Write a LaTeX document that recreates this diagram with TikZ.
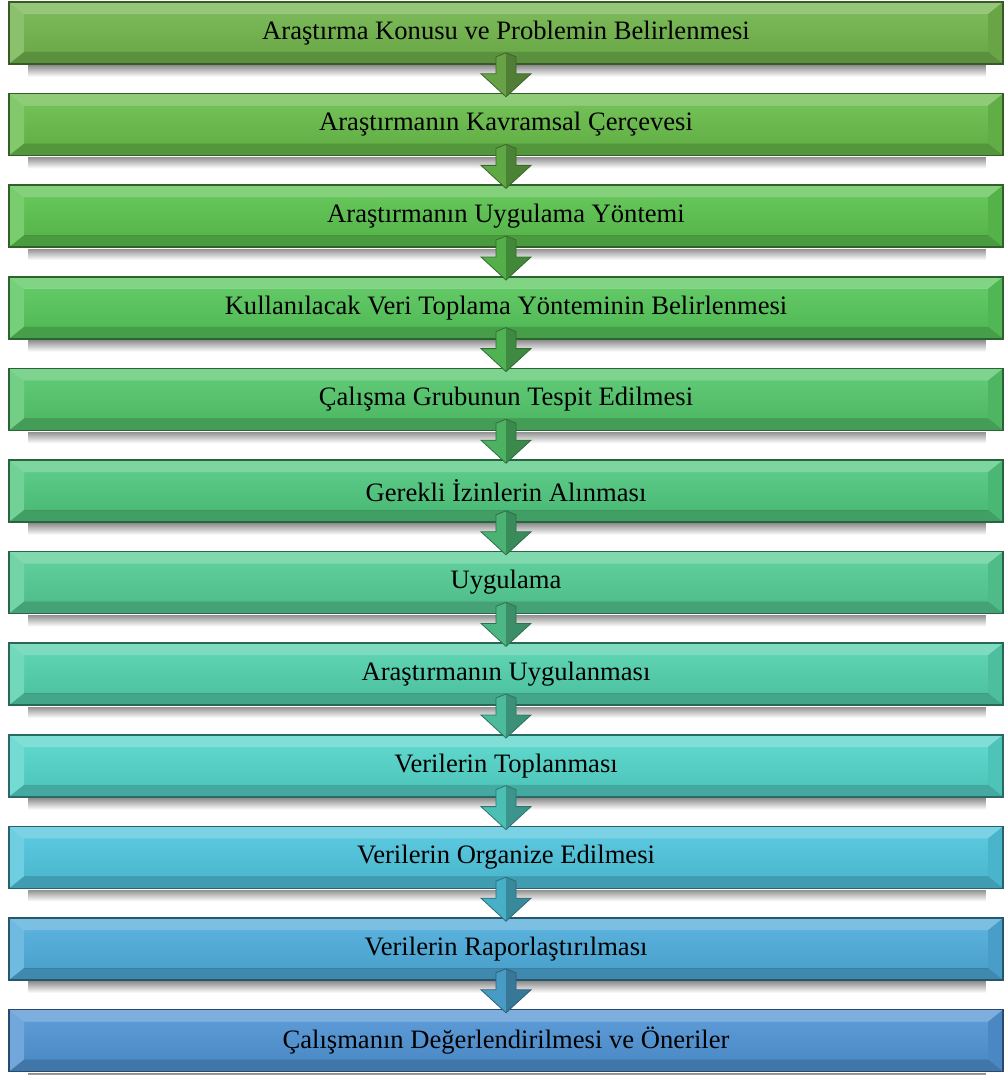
\documentclass[tikz,border=0pt]{standalone}
\usepackage{fontspec}
\setmainfont{Liberation Serif}
\usetikzlibrary{positioning,calc}

\definecolor{c1}{RGB}{114,180,78}
\definecolor{c2}{RGB}{106,188,76}
\definecolor{c3}{RGB}{93,194,80}
\definecolor{c4}{RGB}{88,198,92}
\definecolor{c5}{RGB}{85,197,108}
\definecolor{c6}{RGB}{82,199,128}
\definecolor{c7}{RGB}{85,203,148}
\definecolor{c8}{RGB}{84,208,172}
\definecolor{c9}{RGB}{85,212,200}
\definecolor{c10}{RGB}{80,196,220}
\definecolor{c11}{RGB}{79,172,218}
\definecolor{c12}{RGB}{82,148,212}

% block arrow from one stage down to the next
\newcommand{\stagearrow}[3]{
  \fill[#3!90!black] ($(#1.south)+(-10,-8)$) -- ($(#1.south)+(0,-12)$) -- ($(#1.south)+(10,-8)$)
     -- ($(#1.south)+(10,9)$) -- ($(#1.south)+(25,9)$) -- ($(#2.north)+(0,4)$)
     -- ($(#1.south)+(-25,9)$) -- ($(#1.south)+(-10,9)$) -- cycle;
  \fill[black,opacity=.22] ($(#1.south)+(0,-12)$) -- ($(#1.south)+(10,-8)$)
     -- ($(#1.south)+(10,9)$) -- ($(#1.south)+(25,9)$) -- ($(#2.north)+(0,4)$) -- cycle;
  \draw[#3!55!black,line width=.4pt] ($(#1.south)+(-10,-8)$) -- ($(#1.south)+(0,-12)$) -- ($(#1.south)+(10,-8)$)
     -- ($(#1.south)+(10,9)$) -- ($(#1.south)+(25,9)$) -- ($(#2.north)+(0,4)$)
     -- ($(#1.south)+(-25,9)$) -- ($(#1.south)+(-10,9)$) -- cycle;
}

\begin{document}
\begin{tikzpicture}[x=0.5pt, y=-0.5pt, node distance=45.8pt, on grid]
\tikzset{
stage/.style = {rectangle, draw=#1!50!black, line width=0.8pt, fill=#1,
   minimum width=497pt, minimum height=31pt, inner sep=0pt,
   font=\fontsize{13.3}{15}\selectfont,
   path picture={
     \coordinate (pnw) at (path picture bounding box.north west);
     \coordinate (pne) at (path picture bounding box.north east);
     \coordinate (psw) at (path picture bounding box.south west);
     \coordinate (pse) at (path picture bounding box.south east);
     \fill[white,opacity=.25] (pnw) -- (pne) -- ($(pne)+(-7.5pt,-6pt)$) -- ($(pnw)+(7.5pt,-6pt)$) -- cycle;
     \fill[white,opacity=.18] (pnw) -- ($(pnw)+(7.5pt,-6pt)$) -- ($(psw)+(7.5pt,6pt)$) -- (psw) -- cycle;
     \fill[black,opacity=.2] (psw) -- ($(psw)+(7.5pt,6pt)$) -- ($(pse)+(-7.5pt,6pt)$) -- (pse) -- cycle;
     \fill[black,opacity=.08] (pne) -- ($(pne)+(-7.5pt,-6pt)$) -- ($(pse)+(-7.5pt,6pt)$) -- (pse) -- cycle;
     \shade[top color=white, bottom color=black, opacity=.06] ($(pnw)+(7.5pt,-6pt)$) rectangle ($(pse)+(-7.5pt,6pt)$);
   }},
boxshadow/.style = {top color=black!42, bottom color=white}
}
\useasboundingbox (0,0) rectangle (1003,1075);

\node [stage=c1] (s1) at (506,33) {Araştırma Konusu ve Problemin Belirlenmesi};
\node [stage=c2, below=of s1] (s2) {Araştırmanın Kavramsal Çerçevesi};
\node [stage=c3, below=of s2] (s3) {Araştırmanın Uygulama Yöntemi};
\node [stage=c4, below=of s3] (s4) {Kullanılacak Veri Toplama Yönteminin Belirlenmesi};
\node [stage=c5, below=of s4] (s5) {Çalışma Grubunun Tespit Edilmesi};
\node [stage=c6, below=of s5] (s6) {Gerekli İzinlerin Alınması};
\node [stage=c7, below=of s6] (s7) {Uygulama};
\node [stage=c8, below=of s7] (s8) {Araştırmanın Uygulanması};
\node [stage=c9, below=of s8] (s9) {Verilerin Toplanması};
\node [stage=c10, below=of s9] (s10) {Verilerin Organize Edilmesi};
\node [stage=c11, below=of s10] (s11) {Verilerin Raporlaştırılması};
\node [stage=c12, below=of s11] (s12) {Çalışmanın Değerlendirilmesi ve Öneriler};

\foreach \n in {s1,s2,s3,s4,s5,s6,s7,s8,s9,s10,s11,s12}
  \shade[boxshadow] ($(\n.south west)+(20,1)$) rectangle ($(\n.south east)+(-18,12)$);

\foreach \a/\b/\c in {s1/s2/c1,s2/s3/c2,s3/s4/c3,s4/s5/c4,s5/s6/c5,s6/s7/c6,
    s7/s8/c7,s8/s9/c8,s9/s10/c9,s10/s11/c10,s11/s12/c11}
  {\stagearrow{\a}{\b}{\c}}

\end{tikzpicture}
\end{document}
